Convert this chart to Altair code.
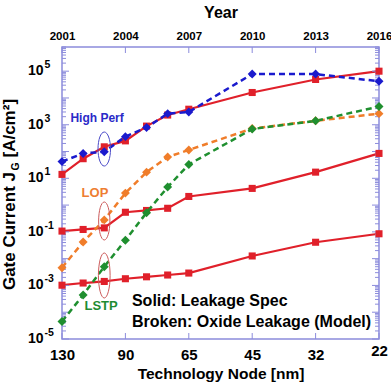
import altair as alt
import pandas as pd

# ---------------- data ----------------
years = [2001, 2002, 2003, 2004, 2005, 2006, 2007, 2010, 2013, 2016]
node_years = [2001, 2004, 2007, 2010, 2013, 2016]
node_labels = ["130", "90", "65", "45", "32", "22"]

# Solid: leakage spec (A/cm^2)
hp_spec = [14, 54, 150, 250, 890, 2300, 3800, 16000, 49000, 100000]
lop_spec = [0.107, 0.123, 0.141, 0.54, 0.63, 0.76, 2.1, 4.2, 17, 85]
lstp_spec = [0.00102, 0.00123, 0.00141, 0.00178, 0.0021, 0.00245, 0.0029, 0.0126, 0.041, 0.085]
# Broken: oxide leakage (model)
hp_oxide = [42, 85, 98, 360, 790, 2600, 3000, 78000, 78000, 42000]
lop_oxide = [0.0046, 0.042, 0.28, 2.8, 17, 62, 115, 720, 1400, 2600]
lstp_oxide = [4.5e-5, 4.4e-4, 0.005, 0.049, 0.52, 4.7, 33, 690, 1400, 4800]

y_tick_exponents = [-5, -3, -1, 1, 3, 5]
y_tick_base = ["10", "10", "10", "10", "10", "10"]
y_tick_sup = ["-5", "-3", "-1", "1", "3", "5"]

series_names = ["HP", "LOP", "LSTP"]
oxide_colors = ["#1a1acd", "#f07d2a", "#1f8f2f"]

annot_text = ["High Perf", "LOP", "LSTP"]
annot_year = [2002.66, 2002.56, 2002.85]
annot_val = [1780, 2.8, 1.7e-4]
annot_color = ["#2a2ac8", "#ee7d32", "#1e8c32"]
annot_size = [12, 13, 13]

ell_year = [2003, 2003, 2003]
ell_val = [124, 0.255, 0.00235]
ell_height = [34, 38, 45]
ell_width = [12.5, 11.3, 11.7]
ell_color = ["#4a4ac8", "#cc5a5a", "#cc5a5a"]

legend_lines = ["Solid: Leakage Spec", "Broken: Oxide Leakage (Model)"]
legend_year = [2004.31, 2004.31]
legend_val = [2.6e-4, 4.3e-5]

y_title_parts = ["Gate Current J", "G", "[A/cm\u00b2]"]

# ---------------- layout ----------------
W, H = 317, 292
PAD = {"left": 62, "top": 47, "right": 12, "bottom": 52}
FONT = "Liberation Sans"
FRAME = "#8c8cdc"
RED = "#e0202a"

xs = alt.Scale(domain=[2001, 2016], nice=False, zero=False)
ys = alt.Scale(type="log", domain=[1e-5, 8e5], nice=False)

spec_df = pd.DataFrame([
    {"year": y, "jg": v, "series": n}
    for n, vals in zip(series_names, [hp_spec, lop_spec, lstp_spec])
    for y, v in zip(years, vals)
])
oxide_df = pd.DataFrame([
    {"year": y, "jg": v, "series": n}
    for n, vals in zip(series_names, [hp_oxide, lop_oxide, lstp_oxide])
    for y, v in zip(years, vals)
])


def nested(cond, keys, labels):
    expr = "''"
    for k, l in reversed(list(zip(keys, labels))):
        expr = f"({cond(k)}) ? '{l}' : {expr}"
    return expr


bottom_expr = nested(lambda k: f"datum.value == {k}", node_years, node_labels)

x_axis_bottom = alt.Axis(
    values=node_years, labelExpr=bottom_expr, ticks=False, domain=False, grid=False,
    title="Technology Node [nm]", titleFont=FONT, titleFontSize=15.5, titleFontWeight="bold",
    titleColor="black", titleY=39, titleBaseline="alphabetic",
    labelFont=FONT, labelFontSize=15, labelFontWeight="bold", labelColor="black",
    labelPadding={"condition": {"test": "datum.value == 2016", "value": 4}, "value": 8},
    labelFlush=False, labelOverlap=False,
)
x_axis_top = alt.Axis(
    orient="top", values=node_years, format="d", ticks=False, domain=False, grid=False,
    title="Year", titleFont=FONT, titleFontSize=16, titleFontWeight="bold", titleColor="black",
    titleY=-30, titleBaseline="alphabetic",
    labelFont=FONT, labelFontSize=11.5, labelFontWeight="bold", labelColor="black",
    labelPadding=6, labelFlush=False, labelOverlap=False,
)

# ---------------- marks ----------------
spec_lines = alt.Chart(spec_df).mark_line(color=RED, strokeWidth=2.2).encode(
    x=alt.X("year:Q", scale=xs, axis=x_axis_bottom),
    y=alt.Y("jg:Q", scale=ys, axis=None),
    detail="series:N",
)
spec_pts = alt.Chart(spec_df).mark_point(shape="square", filled=True, size=50, color=RED, opacity=1).encode(
    x=alt.X("year:Q", scale=xs, axis=None),
    y=alt.Y("jg:Q", scale=ys, axis=None),
)
color_scale = alt.Scale(domain=series_names, range=oxide_colors)
oxide_lines = alt.Chart(oxide_df).mark_line(strokeWidth=2.5, strokeDash=[6, 4]).encode(
    x=alt.X("year:Q", scale=xs, axis=None),
    y=alt.Y("jg:Q", scale=ys, axis=None),
    color=alt.Color("series:N", scale=color_scale, legend=None),
)
oxide_pts = alt.Chart(oxide_df).mark_point(shape="diamond", filled=True, size=80, opacity=1).encode(
    x=alt.X("year:Q", scale=xs, axis=None),
    y=alt.Y("jg:Q", scale=ys, axis=None),
    color=alt.Color("series:N", scale=color_scale, legend=None),
)

ell_df = pd.DataFrame({
    "year": ell_year, "jg": ell_val, "c": ell_color,
    "size": [h * h for h in ell_height],
    "path": [f"M0,-1A{w / h:.3f},1,0,1,1,0,1A{w / h:.3f},1,0,1,1,0,-1Z" for w, h in zip(ell_width, ell_height)],
})
ellipses = alt.Chart(ell_df).mark_point(filled=False, strokeWidth=1, opacity=1).encode(
    x=alt.X("year:Q", scale=xs, axis=None),
    y=alt.Y("jg:Q", scale=ys, axis=None),
    shape=alt.Shape("path:N", scale=None),
    size=alt.Size("size:Q", scale=None),
    color=alt.Color("c:N", scale=None),
)

annot_df = pd.DataFrame({"year": annot_year, "jg": annot_val, "t": annot_text, "c": annot_color, "s": annot_size})
annots = alt.Chart(annot_df).mark_text(font=FONT, fontWeight="bold", align="center", baseline="middle").encode(
    x=alt.X("year:Q", scale=xs, axis=None),
    y=alt.Y("jg:Q", scale=ys, axis=None),
    text="t:N",
    color=alt.Color("c:N", scale=None),
    size=alt.Size("s:Q", scale=None),
)

legend_df = pd.DataFrame({"year": legend_year, "jg": legend_val, "t": legend_lines})
legend_text = alt.Chart(legend_df).mark_text(font=FONT, fontWeight="bold", fontSize=16, align="left",
                                              baseline="middle", color="black").encode(
    x=alt.X("year:Q", scale=xs, axis=None),
    y=alt.Y("jg:Q", scale=ys, axis=None),
    text="t:N",
)

# y tick labels: "10" with superscript exponent
ylab_df = pd.DataFrame({"jg": [10.0 ** e for e in y_tick_exponents], "base": y_tick_base, "sup": y_tick_sup})
ylab_base = alt.Chart(ylab_df).mark_text(font=FONT, fontWeight="bold", fontSize=14, align="left",
                                         baseline="middle", color="black").encode(
    y=alt.Y("jg:Q", scale=ys, axis=None), x=alt.value(-34), text="base:N")
ylab_sup = alt.Chart(ylab_df).mark_text(font=FONT, fontWeight="bold", fontSize=10.5, align="left",
                                        baseline="middle", color="black", dy=-6).encode(
    y=alt.Y("jg:Q", scale=ys, axis=None), x=alt.value(-17.5), text="sup:N")

# axis decorations: inward ticks
major_vals = [10.0 ** k for k in range(-5, 6)]
minor_vals = [m * 10.0 ** k for k in range(-5, 6) for m in range(2, 10) if m * 10.0 ** k <= 8e5]
maj_df = pd.DataFrame({"v": major_vals})
min_df = pd.DataFrame({"v": minor_vals})


def yticks(df, x0, x1):
    return alt.Chart(df).mark_rule(color=FRAME, strokeWidth=1).encode(
        y=alt.Y("v:Q", scale=ys, axis=None), x=alt.value(x0), x2=alt.value(x1))


tick_layers = [yticks(maj_df, 0, 7), yticks(min_df, 0, 4), yticks(maj_df, W, W - 7), yticks(min_df, W, W - 4)]

node_df = pd.DataFrame({"year": node_years})
top_ticks = alt.Chart(node_df).mark_rule(color=FRAME, strokeWidth=1).encode(
    x=alt.X("year:Q", scale=xs, axis=x_axis_top), y=alt.value(0), y2=alt.value(6))
bottom_ticks = alt.Chart(node_df).mark_rule(color=FRAME, strokeWidth=1).encode(
    x=alt.X("year:Q", scale=xs, axis=None), y=alt.value(H), y2=alt.value(H - 6))

# y title composed of pieces (with subscript G)
yt0 = alt.Chart(pd.DataFrame({"t": [y_title_parts[0]]})).mark_text(
    font=FONT, fontWeight="bold", fontSize=17, angle=270, align="right", baseline="alphabetic", color="black"
).encode(text="t:N", x=alt.value(-47), y=alt.value(125))
yt1 = alt.Chart(pd.DataFrame({"t": [y_title_parts[1]]})).mark_text(
    font=FONT, fontWeight="bold", fontSize=10.5, angle=270, align="left", baseline="alphabetic", color="black"
).encode(text="t:N", x=alt.value(-43), y=alt.value(123.5))
yt2 = alt.Chart(pd.DataFrame({"t": [y_title_parts[2]]})).mark_text(
    font=FONT, fontWeight="bold", fontSize=17, angle=270, align="left", baseline="alphabetic", color="black"
).encode(text="t:N", x=alt.value(-47), y=alt.value(110.5))

chart = alt.layer(
    spec_lines, *tick_layers, top_ticks, bottom_ticks,
    spec_pts, oxide_lines, oxide_pts, ellipses, annots, legend_text,
    ylab_base, ylab_sup, yt0, yt1, yt2,
).resolve_axis(x="independent").properties(
    width=W, height=H, padding=PAD, autosize=alt.AutoSizeParams(type="none"), background="white",
).configure_view(stroke=FRAME, strokeWidth=1.5)

chart.save("out.html", embed_options={"renderer": "svg", "actions": False})
